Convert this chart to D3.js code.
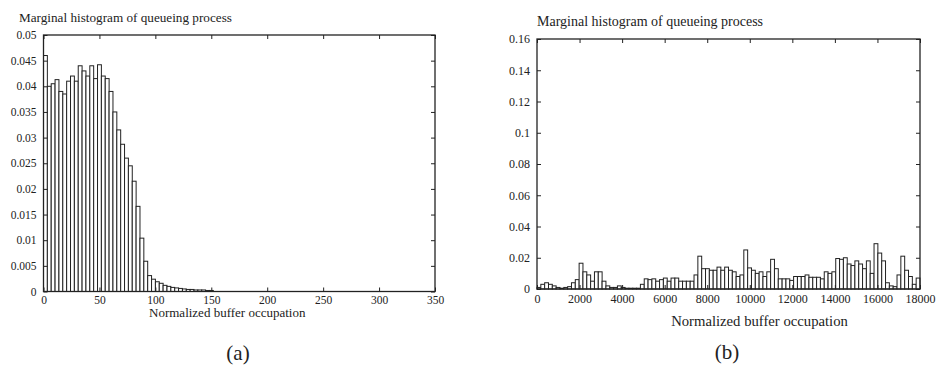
<!DOCTYPE html>
<html>
<head>
<meta charset="utf-8">
<script src="https://cdn.jsdelivr.net/npm/d3@7"></script>
<style>
  html, body { margin: 0; padding: 0; background: #fff; }
  svg { display: block; }
  text { font-family: "Liberation Serif", "DejaVu Serif", serif; fill: #222; }
</style>
</head>
<body>
<svg id="chart" width="936" height="366"></svg>
<script>
// ---------- DATA ----------
const titleText = "Marginal histogram of queueing process";
const xLabelText = "Normalized buffer occupation";

// Panel (a): bin width in buffer units and bin heights
const binWidthA = 3.45;
const valuesA = [
  0.046, 0.040, 0.0405, 0.0413, 0.039, 0.0385, 0.041, 0.042, 0.041, 0.044,
  0.043, 0.042, 0.044, 0.0415, 0.0442, 0.042, 0.0415, 0.039, 0.035, 0.0315,
  0.0287, 0.026, 0.0245, 0.0215, 0.0166, 0.0104, 0.0059, 0.0031, 0.0024, 0.0019,
  0.0016, 0.0012, 0.0010, 0.0008, 0.0007, 0.0006, 0.0005, 0.0004, 0.0004, 0.0003,
  0.0003, 0.0003, 0.0002, 0.0002
];
const xTicksA = [0, 50, 100, 150, 200, 250, 300, 350];
const yTicksA = [0, 0.005, 0.01, 0.015, 0.02, 0.025, 0.03, 0.035, 0.04, 0.045, 0.05];
const yTickLabelsA = ["0", "0.005", "0.01", "0.015", "0.02", "0.025", "0.03", "0.035", "0.04", "0.045", "0.05"];

// Panel (b)
const binWidthB = 180;
const valuesB = [
  0.001, 0.003, 0.004, 0.003, 0.002, 0.001, 0.0005, 0.001, 0.0015, 0.004,
  0.006, 0.0165, 0.011, 0.009, 0.005, 0.011, 0.011, 0.005, 0.002, 0.001,
  0.001, 0.002, 0.001, 0.0005, 0.0005, 0.0005, 0.0005, 0.003, 0.0065, 0.006,
  0.0065, 0.005, 0.006, 0.007, 0.005, 0.007, 0.007, 0.005, 0.005, 0.005,
  0.005, 0.009, 0.021, 0.013, 0.013, 0.012, 0.012, 0.014, 0.012, 0.014,
  0.012, 0.011, 0.008, 0.009, 0.025, 0.0135, 0.012, 0.010, 0.011, 0.008,
  0.011, 0.019, 0.013, 0.0065, 0.0065, 0.0065, 0.0055, 0.008, 0.008, 0.008,
  0.009, 0.0075, 0.0075, 0.0075, 0.0065, 0.011, 0.010, 0.011, 0.0195, 0.019,
  0.020, 0.016, 0.015, 0.018, 0.016, 0.013, 0.018, 0.010, 0.029, 0.023,
  0.018, 0.004, 0.002, 0.0015, 0.009, 0.021, 0.012, 0.008, 0.003, 0.007
];
const xTicksB = [0, 2000, 4000, 6000, 8000, 10000, 12000, 14000, 16000, 18000];
const yTicksB = [0, 0.02, 0.04, 0.06, 0.08, 0.1, 0.12, 0.14, 0.16];
const yTickLabelsB = ["0", "0.02", "0.04", "0.06", "0.08", "0.1", "0.12", "0.14", "0.16"];

const panelLabels = ["(a)", "(b)"];

// ---------- DRAW ----------
const svg = d3.select("#chart");
const ink = "#222";

function panel(cfg) {
  const x = d3.scaleLinear().domain(cfg.xDomain).range([cfg.left, cfg.right]);
  const y = d3.scaleLinear().domain(cfg.yDomain).range([cfg.bottom, cfg.top]);
  const g = svg.append("g");

  // bars
  g.selectAll("rect.bar").data(cfg.values).enter().append("rect")
    .attr("class", "bar")
    .attr("x", (d, i) => x(i * cfg.binWidth))
    .attr("width", (d, i) => x((i + 1) * cfg.binWidth) - x(i * cfg.binWidth))
    .attr("y", d => y(d))
    .attr("height", d => y(0) - y(d))
    .attr("fill", "#fff")
    .attr("stroke", ink)
    .attr("stroke-width", 1);

  const tl = 4;
  // axes with inward ticks
  const bottomAxis = d3.axisBottom(x).tickValues(cfg.xTicks).tickSize(-tl).tickPadding(cfg.xPad)
    .tickFormat(d3.format("d"));
  const topAxis = d3.axisTop(x).tickValues(cfg.xTicks).tickSize(-tl).tickFormat("");
  const leftAxis = d3.axisLeft(y).tickValues(cfg.yTicks).tickSize(-tl).tickPadding(tl + 3)
    .tickFormat((d, i) => cfg.yTickLabels[i]);
  const rightAxis = d3.axisRight(y).tickValues(cfg.yTicks).tickSize(-tl).tickFormat("");

  const ab = g.append("g").attr("transform", `translate(0,${cfg.bottom})`).call(bottomAxis);
  const at = g.append("g").attr("transform", `translate(0,${cfg.top})`).call(topAxis);
  const al = g.append("g").attr("transform", `translate(${cfg.left},0)`).call(leftAxis);
  const ar = g.append("g").attr("transform", `translate(${cfg.right},0)`).call(rightAxis);
  [ab, at, al, ar].forEach(a => {
    a.select(".domain").remove();
    a.selectAll("line").attr("stroke", ink);
    a.selectAll("text").attr("fill", ink)
      .style("font-family", '"Liberation Serif", "DejaVu Serif", serif')
      .style("font-size", cfg.tickFont + "px");
  });

  // frame
  g.append("rect")
    .attr("x", cfg.left).attr("y", cfg.top)
    .attr("width", cfg.right - cfg.left).attr("height", cfg.bottom - cfg.top)
    .attr("fill", "none").attr("stroke", ink).attr("stroke-width", 1.3);

  // title
  g.append("text").attr("x", cfg.titleX).attr("y", cfg.titleY)
    .style("font-size", cfg.titleFont + "px").text(titleText);
  // x label
  g.append("text").attr("x", (cfg.left + cfg.right) / 2 + cfg.xLabelDx).attr("y", cfg.xLabelY)
    .attr("text-anchor", "middle").style("font-size", cfg.xLabelFont + "px").text(xLabelText);
  // panel label
  g.append("text").attr("x", cfg.panelX).attr("y", cfg.panelY)
    .attr("text-anchor", "middle").style("font-size", "21px").text(cfg.panelLabel);
}

panel({
  xDomain: [0, 350], yDomain: [0, 0.05],
  left: 43.5, right: 435, top: 35, bottom: 291.5,
  values: valuesA, binWidth: binWidthA,
  xTicks: xTicksA, yTicks: yTicksA, yTickLabels: yTickLabelsA,
  tickFont: 11.5, xPad: 4, titleFont: 13.2, titleX: 19, titleY: 22,
  xLabelFont: 13, xLabelY: 317, xLabelDx: -12,
  panelX: 238, panelY: 360, panelLabel: panelLabels[0]
});

panel({
  xDomain: [0, 18000], yDomain: [0, 0.16],
  left: 537, right: 920, top: 39, bottom: 289,
  values: valuesB, binWidth: binWidthB,
  xTicks: xTicksB, yTicks: yTicksB, yTickLabels: yTickLabelsB,
  tickFont: 12, xPad: 5, titleFont: 14, titleX: 537, titleY: 26,
  xLabelFont: 14.7, xLabelY: 326, xLabelDx: 31,
  panelX: 727, panelY: 359, panelLabel: panelLabels[1]
});
</script>
</body>
</html>
